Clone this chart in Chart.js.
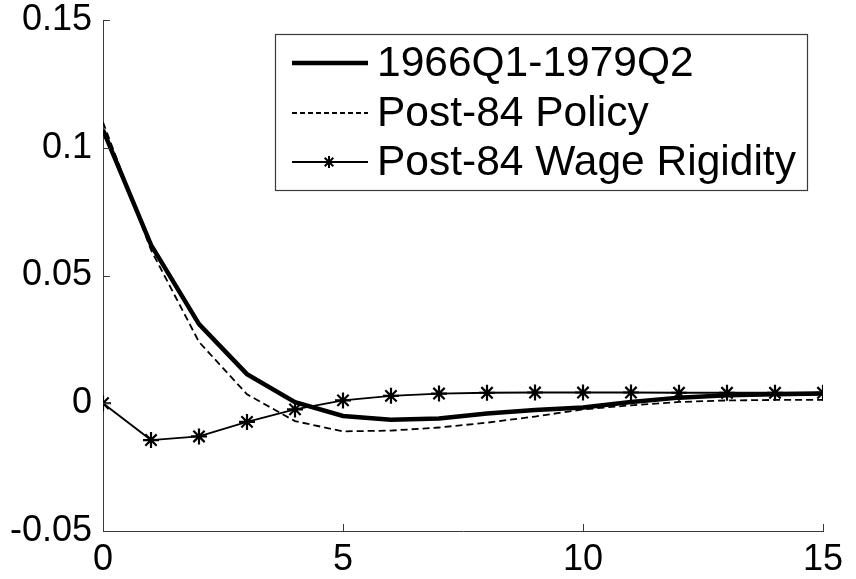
<!DOCTYPE html>
<html>
<head>
<meta charset="utf-8">
<script src="https://cdn.jsdelivr.net/npm/chart.js@4/dist/chart.umd.min.js"></script>
<style>
  html, body { margin: 0; padding: 0; background: #ffffff; }
  #wrap { width: 856px; height: 579px; position: relative; }
</style>
</head>
<body>
<div id="wrap"><canvas id="c" width="856" height="579"></canvas></div>
<script>
// ---- data ----
const periods = [0, 1, 2, 3, 4, 5, 6, 7, 8, 9, 10, 11, 12, 13, 14, 15];
const series1966 = [0.107, 0.062, 0.031, 0.0114, 0.0004, -0.005, -0.0065, -0.006, -0.004, -0.0026, -0.0017, 0.0005, 0.0022, 0.0031, 0.0035, 0.0038];
const seriesPolicy = [0.110, 0.060, 0.024, 0.0035, -0.007, -0.011, -0.0107, -0.0095, -0.0076, -0.0052, -0.0024, -0.0008, 0.0005, 0.0011, 0.0013, 0.0013];
const seriesWage = [0, -0.0144, -0.013, -0.0073, -0.0024, 0.0011, 0.0029, 0.0038, 0.0041, 0.0042, 0.0042, 0.0042, 0.0041, 0.0041, 0.0041, 0.0041];
const seriesLabels = ['1966Q1-1979Q2', 'Post-84 Policy', 'Post-84 Wage Rigidity'];
const xTicks = [0, 5, 10, 15];
const yTicks = [-0.05, 0, 0.05, 0.1, 0.15];

const toXY = arr => arr.map((v, i) => ({ x: periods[i], y: v }));
const AXIS = '#3a3a3a';
const FONT = 'Liberation Sans, Arial, Helvetica, sans-serif';

// inward tick marks drawn at the scale's own tick positions
const innerTicks = {
  id: 'innerTicks',
  afterDatasetsDraw(chart) {
    const ctx = chart.ctx, xs = chart.scales.x, ys = chart.scales.y;
    const a = chart.chartArea, L = 7;
    ctx.save();
    ctx.strokeStyle = AXIS; ctx.lineWidth = 1;
    ctx.beginPath();
    xTicks.forEach(v => {
      const px = Math.round(xs.getPixelForValue(v)) + 0.5;
      ctx.moveTo(px, a.bottom); ctx.lineTo(px, a.bottom - L);
    });
    yTicks.forEach(v => {
      const py = Math.round(ys.getPixelForValue(v)) + 0.5;
      ctx.moveTo(a.left, py); ctx.lineTo(a.left + L, py);
    });
    ctx.stroke();
    ctx.restore();
  }
};

// boxed legend inside the plot area (MATLAB style)
const boxLegend = {
  id: 'boxLegend',
  afterDraw(chart) {
    const ctx = chart.ctx;
    const bx = 275.5, by = 34.5, bw = 532, bh = 156;
    ctx.save();
    ctx.fillStyle = '#ffffff';
    ctx.fillRect(bx, by, bw, bh);
    ctx.strokeStyle = AXIS; ctx.lineWidth = 1.2;
    ctx.strokeRect(bx, by, bw, bh);
    const rows = [63, 113, 162];
    chart.data.datasets.forEach((ds, i) => {
      const y = rows[i];
      ctx.save();
      ctx.strokeStyle = ds.borderColor;
      ctx.lineWidth = ds.borderWidth;
      ctx.setLineDash(ds.legendDash || []);
      ctx.beginPath();
      ctx.moveTo(292, y); ctx.lineTo(368, y);
      ctx.stroke();
      ctx.restore();
      if (ds.pointStyle === 'star' && ds.pointRadius > 0) {
        const cx = 329, r = 6;
        ctx.strokeStyle = '#000'; ctx.lineWidth = 2;
        ctx.beginPath();
        ctx.moveTo(cx, y - r); ctx.lineTo(cx, y + r);
        ctx.moveTo(cx - r * 0.72, y - r * 0.72); ctx.lineTo(cx + r * 0.72, y + r * 0.72);
        ctx.moveTo(cx - r * 0.72, y + r * 0.72); ctx.lineTo(cx + r * 0.72, y - r * 0.72);
        ctx.stroke();
      }
      ctx.fillStyle = '#000';
      ctx.font = '42.5px ' + FONT;
      ctx.textBaseline = 'middle';
      ctx.textAlign = 'left';
      ctx.fillText(ds.label, 377, y + 1);
    });
    ctx.restore();
  }
};

const zeroPad = s => { s.paddingTop = 0; s.paddingBottom = 0; s.paddingLeft = 0; s.paddingRight = 0; };

new Chart(document.getElementById('c'), {
  type: 'line',
  data: {
    datasets: [
      {
        label: seriesLabels[0],
        data: toXY(series1966),
        borderColor: '#000', borderWidth: 4.5,
        pointRadius: 0, tension: 0, fill: false
      },
      {
        label: seriesLabels[1],
        data: toXY(seriesPolicy),
        borderColor: '#000', borderWidth: 1.8,
        borderDash: [7, 4], legendDash: [5, 3],
        pointRadius: 0, tension: 0, fill: false
      },
      {
        label: seriesLabels[2],
        data: toXY(seriesWage),
        borderColor: '#000', borderWidth: 1.8,
        pointStyle: 'star', pointRadius: 8, pointBorderWidth: 2.2,
        pointBorderColor: '#000', pointBackgroundColor: '#000',
        tension: 0, fill: false
      }
    ]
  },
  options: {
    responsive: false,
    animation: false,
    devicePixelRatio: 1,
    layout: { padding: { top: 20, right: 33, left: 0, bottom: 0 } },
    plugins: { legend: { display: false }, tooltip: { enabled: false } },
    scales: {
      x: {
        type: 'linear', min: 0, max: 15,
        afterFit: s => { s.height = 48; zeroPad(s); },
        afterBuildTicks: s => { s.ticks = xTicks.map(v => ({ value: v })); },
        grid: { display: true, drawOnChartArea: false, drawTicks: false },
        border: { display: true, color: AXIS, width: 1 },
        ticks: { color: '#000', padding: 7, maxRotation: 0, font: { family: FONT, size: 36 },
                 callback: v => String(v) }
      },
      y: {
        type: 'linear', min: -0.05, max: 0.15,
        afterFit: s => { s.width = 103; zeroPad(s); },
        afterBuildTicks: s => { s.ticks = yTicks.map(v => ({ value: v })); },
        grid: { display: true, drawOnChartArea: false, drawTicks: false },
        border: { display: true, color: AXIS, width: 1 },
        ticks: { color: '#000', padding: 11, font: { family: FONT, size: 36 },
                 callback: v => String(Math.round(v * 100) / 100) }
      }
    }
  },
  plugins: [innerTicks, boxLegend]
});
</script>
</body>
</html>
